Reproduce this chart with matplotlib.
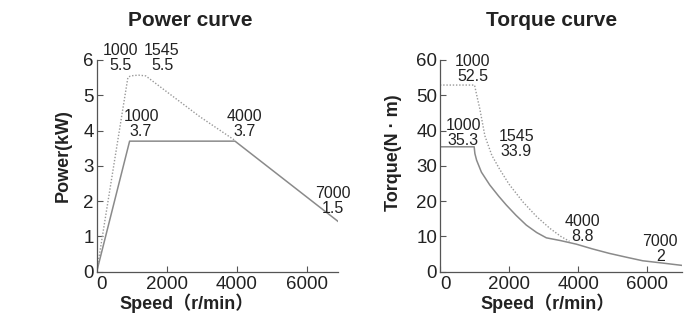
import matplotlib
matplotlib.use('Agg')
import matplotlib.pyplot as plt

plt.rcParams['font.family'] = ['Liberation Sans', 'Noto Sans CJK SC', 'DejaVu Sans']

# power curve (kW vs r/min)
p_speed_rated = [0, 940, 3950, 6900]
p_rated = [0, 3.7, 3.7, 1.42]
p_speed_peak = [0, 890, 950, 1050, 1200, 1400, 2000, 2950, 3950]
p_peak = [0, 5.5, 5.54, 5.56, 5.57, 5.55, 5.1, 4.39, 3.72]

# torque curve (N·m vs r/min)
t_speed_rated = [0, 990, 1010, 1060, 1200, 1440, 1700, 1920, 2200, 2500, 2800, 3080,
                 3500, 3950, 4400, 4900, 5400, 5870, 6400, 7000]
t_rated = [35.4, 35.4, 33.5, 31.6, 28.2, 24.6, 21.4, 18.9, 16.0, 13.2, 11.1, 9.6,
           8.8, 7.8, 6.5, 5.2, 4.1, 3.1, 2.5, 1.8]
t_speed_peak = [0, 1000, 1080, 1150, 1300, 1500, 1730, 2000, 2400, 2800, 3180, 3500, 3750]
t_peak = [52.9, 52.9, 49.3, 46.3, 38.5, 33.0, 29.0, 24.8, 19.8, 15.6, 12.3, 10.0, 8.6]

# point labels: (x, y, text)
p_labels = [(666, 6.07, '1000\n5.5'), (1866, 6.07, '1545\n5.5'),
            (1266, 4.19, '1000\n3.7'), (4211, 4.19, '4000\n3.7'),
            (6750, 2.0, '7000\n1.5')]
t_labels = [(952, 57.4, '1000\n52.5'), (678, 39.4, '1000\n35.3'),
            (2213, 36.2, '1545\n33.9'), (4113, 12.1, '4000\n8.8'),
            (6378, 6.4, '7000\n2')]

TXT = '#222222'
AX = '#555555'
LN = '#8a8a8a'

fig = plt.figure(figsize=(6.88, 3.13), dpi=100)
ax1 = fig.add_axes([96.7 / 688, 1 - 271.7 / 313, 241.6 / 688, 211.7 / 313])
ax2 = fig.add_axes([440 / 688, 1 - 271.7 / 313, 241.7 / 688, 211.7 / 313])


def style(ax, xmax, ymax, yticks):
    ax.set_xlim(0, xmax)
    ax.set_ylim(0, ymax)
    ax.set_xticks([0, 2000, 4000, 6000])
    ax.set_yticks(yticks)
    for s in ['top', 'right']:
        ax.spines[s].set_visible(False)
    for s in ['left', 'bottom']:
        ax.spines[s].set_color(AX)
        ax.spines[s].set_linewidth(0.9)
    ax.tick_params(direction='in', length=4, width=0.8, color=AX,
                   labelsize=13.5, labelcolor=TXT, pad=2)
    ax.tick_params(axis='x', pad=3)
    ax.get_xticklabels()[0].set_horizontalalignment('left')
    ax.set_facecolor('none')


style(ax1, 6900, 6, [0, 1, 2, 3, 4, 5, 6])
style(ax2, 7000, 60, [0, 10, 20, 30, 40, 50, 60])

ax1.plot(p_speed_rated, p_rated, color=LN, lw=1.1)
ax1.plot(p_speed_peak, p_peak, color='#999999', lw=1.0, linestyle=(0, (1, 1.3)))
ax2.plot(t_speed_rated, t_rated, color=LN, lw=1.1)
ax2.plot(t_speed_peak, t_peak, color='#999999', lw=1.0, linestyle=(0, (1, 1.3)))

for x, y, s in p_labels:
    ax1.text(x, y, s, ha='center', va='center', fontsize=11.5, color=TXT,
             linespacing=1.0, clip_on=False)
for x, y, s in t_labels:
    ax2.text(x, y, s, ha='center', va='center', fontsize=11.5, color=TXT,
             linespacing=1.0, clip_on=False)

ax1.set_ylabel('Power(kW)', fontsize=13, fontweight='bold', color=TXT)
ax1.yaxis.set_label_coords(-0.104, 0.547)
ax2.set_ylabel('Torque(N · m)', fontsize=13, fontweight='bold', color=TXT)
ax2.yaxis.set_label_coords(-0.158, 0.56)
for ax, xc in [(ax1, 0.374), (ax2, 0.447)]:
    ax.set_xlabel('Speed（r/min）', fontsize=13, fontweight='bold', color=TXT,
                  va='center')
    ax.xaxis.set_label_coords(xc, -0.148)

fig.text(190 / 688, 1 - 20 / 313, 'Power curve', ha='center', va='center',
         fontsize=15, fontweight='bold', color=TXT)
fig.text(552 / 688, 1 - 20 / 313, 'Torque curve', ha='center', va='center',
         fontsize=15, fontweight='bold', color=TXT)

fig.savefig('out.png', dpi=100, facecolor='white')
